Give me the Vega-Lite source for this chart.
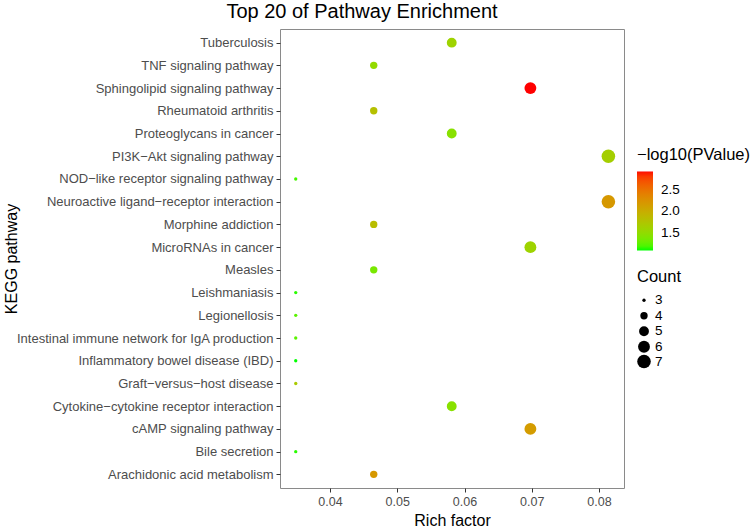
{
  "$schema": "https://vega.github.io/schema/vega-lite/v6.json",
  "autosize": {"type": "none"},
  "width": 344,
  "height": 459,
  "padding": {"left": 280, "top": 29, "right": 129, "bottom": 41},
  "background": "white",
  "title": {
    "text": "Top 20 of Pathway Enrichment",
    "anchor": "middle",
    "dx": -90,
    "offset": 7,
    "fontSize": 20,
    "fontWeight": "normal",
    "font": "Liberation Sans",
    "color": "black"
  },
  "config": {
    "font": "Liberation Sans",
    "view": {"stroke": "#8a8a8a", "strokeWidth": 1}
  },
  "data": {
    "values": [
      {"pathway": "Tuberculosis", "rich": 0.0581, "count": 5, "logp": 1.6},
      {"pathway": "TNF signaling pathway", "rich": 0.0465, "count": 4, "logp": 1.52},
      {"pathway": "Sphingolipid signaling pathway", "rich": 0.0698, "count": 6, "logp": 2.92},
      {"pathway": "Rheumatoid arthritis", "rich": 0.0465, "count": 4, "logp": 1.8},
      {"pathway": "Proteoglycans in cancer", "rich": 0.0581, "count": 5, "logp": 1.45},
      {"pathway": "PI3K−Akt signaling pathway", "rich": 0.0814, "count": 7, "logp": 1.65},
      {"pathway": "NOD−like receptor signaling pathway", "rich": 0.0349, "count": 3, "logp": 1.18},
      {"pathway": "Neuroactive ligand−receptor interaction", "rich": 0.0814, "count": 7, "logp": 2.19},
      {"pathway": "Morphine addiction", "rich": 0.0465, "count": 4, "logp": 1.83},
      {"pathway": "MicroRNAs in cancer", "rich": 0.0698, "count": 6, "logp": 1.6},
      {"pathway": "Measles", "rich": 0.0465, "count": 4, "logp": 1.37},
      {"pathway": "Leishmaniasis", "rich": 0.0349, "count": 3, "logp": 1.13},
      {"pathway": "Legionellosis", "rich": 0.0349, "count": 3, "logp": 1.24},
      {"pathway": "Intestinal immune network for IgA production", "rich": 0.0349, "count": 3, "logp": 1.24},
      {"pathway": "Inflammatory bowel disease (IBD)", "rich": 0.0349, "count": 3, "logp": 1.1},
      {"pathway": "Graft−versus−host disease", "rich": 0.0349, "count": 3, "logp": 1.7},
      {"pathway": "Cytokine−cytokine receptor interaction", "rich": 0.0581, "count": 5, "logp": 1.45},
      {"pathway": "cAMP signaling pathway", "rich": 0.0698, "count": 6, "logp": 2.16},
      {"pathway": "Bile secretion", "rich": 0.0349, "count": 3, "logp": 1.13},
      {"pathway": "Arachidonic acid metabolism", "rich": 0.0465, "count": 4, "logp": 2.19}
    ]
  },
  "mark": {"type": "point", "filled": true, "opacity": 1, "shape": "circle"},
  "encoding": {
    "x": {
      "field": "rich",
      "type": "quantitative",
      "scale": {"domain": [0.03256, 0.08372], "nice": false, "zero": false},
      "axis": {
        "values": [0.04, 0.05, 0.06, 0.07, 0.08],
        "format": ".2f",
        "title": "Rich factor",
        "titleFontSize": 16,
        "titleFontWeight": "normal",
        "titleColor": "black",
        "titlePadding": 5,
        "labelFontSize": 12.5,
        "labelColor": "#4d4d4d",
        "labelPadding": 3,
        "grid": false,
        "domain": false,
        "tickColor": "#333333",
        "tickSize": 4
      }
    },
    "y": {
      "field": "pathway",
      "type": "nominal",
      "sort": [
        "Tuberculosis", "TNF signaling pathway", "Sphingolipid signaling pathway", "Rheumatoid arthritis",
        "Proteoglycans in cancer", "PI3K−Akt signaling pathway", "NOD−like receptor signaling pathway",
        "Neuroactive ligand−receptor interaction", "Morphine addiction", "MicroRNAs in cancer", "Measles",
        "Leishmaniasis", "Legionellosis", "Intestinal immune network for IgA production",
        "Inflammatory bowel disease (IBD)", "Graft−versus−host disease", "Cytokine−cytokine receptor interaction",
        "cAMP signaling pathway", "Bile secretion", "Arachidonic acid metabolism"
      ],
      "scale": {"type": "point", "padding": 0.6},
      "axis": {
        "title": "KEGG pathway",
        "titleFontSize": 16,
        "titleFontWeight": "normal",
        "titleColor": "black",
        "titleX": -261,
        "labelFontSize": 13,
        "labelLimit": 0,
        "labelColor": "#4d4d4d",
        "labelPadding": 3,
        "grid": false,
        "domain": false,
        "tickColor": "#333333",
        "tickSize": 4
      }
    },
    "color": {
      "field": "logp",
      "type": "quantitative",
      "scale": {"range": ["#00ff00", "#ff0000"], "interpolate": "lab", "nice": false, "zero": false},
      "legend": {
        "title": "−log10(PValue)",
        "orient": "none",
        "legendX": 357,
        "legendY": 118,
        "direction": "vertical",
        "gradientLength": 79,
        "gradientThickness": 16,
        "values": [1.5, 2.0, 2.5],
        "format": ".1f",
        "titleFontSize": 16.5,
        "titleFontWeight": "normal",
        "titleColor": "black",
        "titlePadding": 8,
        "titleLimit": 200,
        "labelFontSize": 13.5,
        "labelColor": "black",
        "labelOffset": 8
      }
    },
    "size": {
      "field": "count",
      "type": "quantitative",
      "scale": {"domain": [3, 7], "range": [11, 184], "zero": false},
      "legend": {
        "title": "Count",
        "orient": "none",
        "legendX": 357,
        "legendY": 240,
        "values": [3, 4, 5, 6, 7],
        "symbolFillColor": "black",
        "symbolStrokeColor": "black",
        "symbolStrokeWidth": 0,
        "titleFontSize": 16.5,
        "titleFontWeight": "normal",
        "titleColor": "black",
        "titlePadding": 8,
        "labelFontSize": 13.5,
        "labelColor": "black",
        "rowPadding": 0.5
      }
    }
  }
}
